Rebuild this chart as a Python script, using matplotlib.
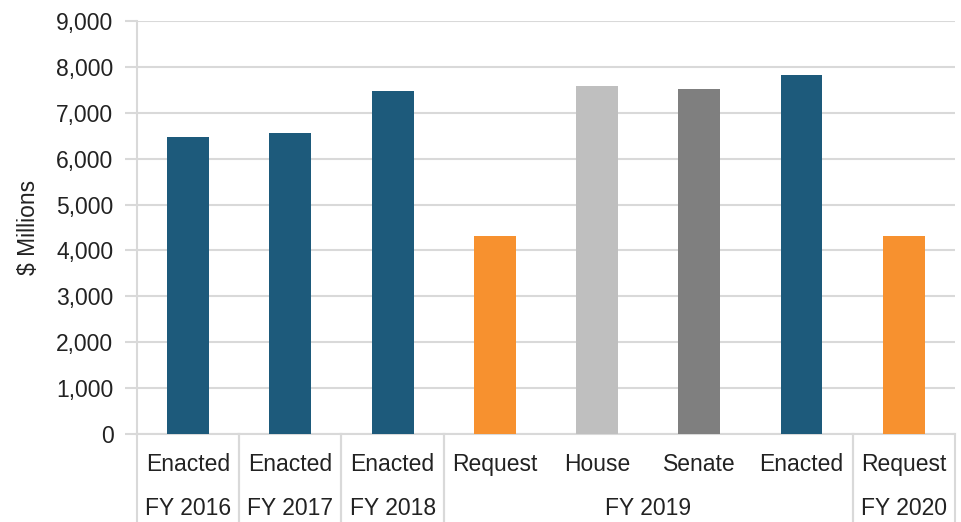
import matplotlib.pyplot as plt
import matplotlib.transforms as mtransforms

plt.rcParams['font.family'] = ['Liberation Sans', 'DejaVu Sans']

# Budget stages and amounts ($ millions)
stages = ['Enacted', 'Enacted', 'Enacted', 'Request', 'House', 'Senate', 'Enacted', 'Request']
values = [6470, 6560, 7470, 4310, 7580, 7520, 7820, 4310]
colors = ['#1D5A7B', '#1D5A7B', '#1D5A7B', '#F7912F', '#BFBFBF', '#7F7F7F', '#1D5A7B', '#F7912F']

# Fiscal-year groups: (label, first index, last index)
years = [('FY 2016', 0, 0), ('FY 2017', 1, 1), ('FY 2018', 2, 2),
         ('FY 2019', 3, 6), ('FY 2020', 7, 7)]

fs = 16.5

fig = plt.figure(figsize=(9.61, 5.22), dpi=100)
ax = fig.add_axes([0.1426, 0.1686, 0.851, 0.7912])

x = list(range(len(values)))
ax.bar(x, values, width=0.41, color=colors, zorder=3)

ax.set_xlim(-0.5, len(values) - 0.5)
ax.set_ylim(0, 9000)
ax.set_yticks(range(0, 9001, 1000))
ax.set_yticklabels([f'{v:,}' for v in range(0, 9001, 1000)], fontsize=fs, color='#222222')
ax.yaxis.grid(True, color='#D9D9D9', linewidth=1.5, zorder=0)
ax.tick_params(axis='y', length=9, width=1.5, color='#D9D9D9', pad=8)
ax.set_xticks([])

for side in ['top', 'right']:
    ax.spines[side].set_visible(False)
ax.spines['left'].set_color('#D9D9D9')
ax.spines['left'].set_linewidth(1.5)
ax.spines['bottom'].set_color('#D9D9D9')
ax.spines['bottom'].set_linewidth(1.5)

ax.set_ylabel('\\$ Millions', fontsize=fs, color='#222222', labelpad=12)

# Two-level category axis below the plot
trans = mtransforms.blended_transform_factory(ax.transData, ax.transAxes)
row1_y = -0.073
row2_y = -0.18
bottom_y = -0.215
for i, s in enumerate(stages):
    ax.text(i, row1_y, s, transform=trans, ha='center', va='center',
            fontsize=fs, color='#222222')
for label, a, b in years:
    ax.text((a + b) / 2, row2_y, label, transform=trans, ha='center', va='center',
            fontsize=fs, color='#222222')
    for edge in (a - 0.5, b + 0.5):
        ax.plot([edge, edge], [0, bottom_y], transform=trans, color='#D9D9D9',
                linewidth=1.5, clip_on=False)

fig.savefig('out.png', dpi=100)
